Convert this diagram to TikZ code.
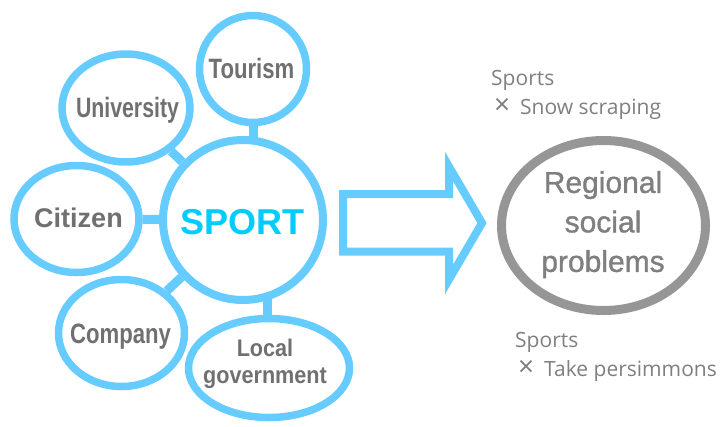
\documentclass[tikz,border=0pt]{standalone}
\usepackage{fontspec}
\setmainfont{Liberation Sans}
\newfontfamily\condA[FakeStretch=0.79]{Liberation Sans}
\newfontfamily\condU[FakeStretch=0.76]{Liberation Sans}
\newfontfamily\condL[FakeStretch=0.9]{Liberation Sans}
\newfontfamily\regfont[FakeBold=1.2]{Liberation Sans}
\newfontfamily\osans{Open Sans}
\newcommand{\timesmark}{{\fontsize{28}{29}\selectfont ×}}
\usetikzlibrary{shapes.geometric,backgrounds}
\definecolor{skyb}{RGB}{102,204,255}
\definecolor{sportc}{RGB}{0,204,255}
\definecolor{labg}{RGB}{112,112,112}
\definecolor{ringg}{RGB}{150,150,150}
\definecolor{txtg}{RGB}{127,127,127}
\begin{document}
\begin{tikzpicture}[x=1pt,y=-1pt,
  bub/.style={ellipse,draw=skyb,line width=7.5pt,fill=white,inner sep=0pt},
  lab/.style={text=labg,align=center,inner sep=0pt},
  link/.style={draw=skyb,line width=9pt},
  note/.style={text=txtg,font=\osans\fontsize{21}{29}\selectfont,align=left,inner sep=0pt,anchor=west}]
\useasboundingbox (0,0) rectangle (723,426);
% bubbles
\node[bub,minimum width=107pt,minimum height=107pt] (tour) at (253,69) {};
\node[bub,minimum width=128pt,minimum height=108pt] (univ) at (126,108) {};
\node[bub,minimum width=160pt,minimum height=160pt,line width=8pt] (sport) at (243,220) {};
\node[bub,minimum width=125pt,minimum height=107pt] (citi) at (76.5,219) {};
\node[bub,minimum width=126pt,minimum height=107pt] (comp) at (121.5,333) {};
\node[bub,minimum width=161pt,minimum height=99pt] (locg) at (269,368) {};
% connectors
\begin{scope}[on background layer]
\draw[link] (tour) -- (tour |- sport);
\draw[link] (univ) -- (sport);
\draw[link] (citi) -- (sport);
\draw[link] (comp) -- (sport);
\draw[link] ([xshift=-2pt]locg.center) -- ([xshift=-2pt]locg.center |- sport);
\end{scope}
% labels
\node[lab,anchor=base,font=\condA\bfseries\fontsize{28}{30}\selectfont] (tourt) at (251.5,78) {Tourism};
\node[lab,anchor=base,font=\condU\bfseries\fontsize{28}{30}\selectfont] (univt) at (127.5,117.3) {University};
\node[lab,anchor=base,font=\bfseries\fontsize{27}{30}\selectfont] (citit) at (78.5,227) {Citizen};
\node[lab,anchor=base,font=\condA\bfseries\fontsize{28}{30}\selectfont] (compt) at (120.5,343) {Company};
\node[lab,font=\condL\bfseries\fontsize{24}{27}\selectfont] (locgt) at (265,364.3) {Local\\government};
\node[lab,anchor=base,text=sportc,font=\bfseries\fontsize{36}{40}\selectfont] (sportt) at (242.5,234) {SPORT};
% block arrow
\draw[skyb,line width=8pt,line join=miter,miter limit=10] (343,194) -- (449,194) -- (449,166.5) -- (482,223) -- (449,279.5) -- (449,251.5) -- (343,251.5) -- cycle;
% target
\node[ellipse,draw=ringg,line width=9pt,inner sep=0pt,minimum width=204pt,minimum height=170pt] (reg) at (603.5,225.5) {};
\node[lab,text=txtg,font=\regfont\fontsize{30}{39.5}\selectfont] (regt) at (603,224.6) {Regional\\social\\problems};
% notes
\node[note] (n1) at (491,95.4) {Sports\\\hspace*{3pt}\timesmark\hspace{10pt}Snow scraping};
\node[note] (n2) at (515,356.5) {Sports\\\hspace*{3pt}\timesmark\hspace{10pt}Take persimmons};
\end{tikzpicture}
\end{document}
